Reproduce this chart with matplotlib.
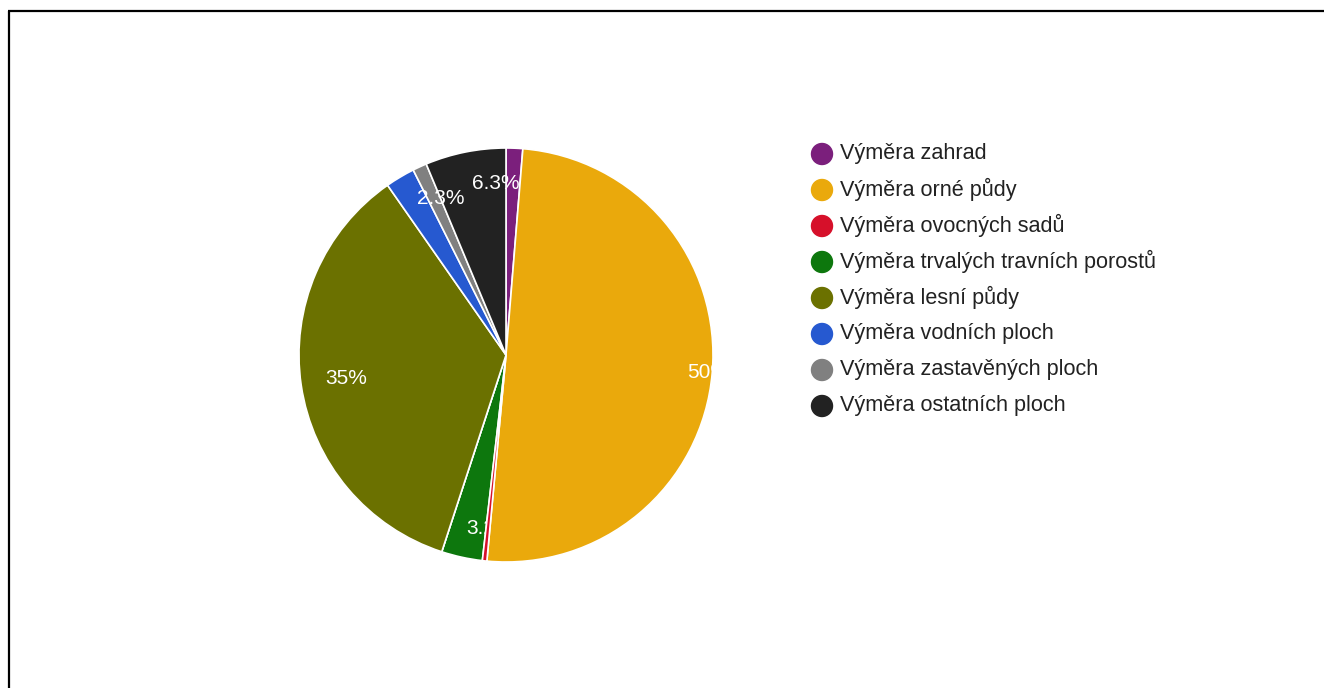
import numpy as np
import matplotlib
matplotlib.use("Agg")
import matplotlib.pyplot as plt
from matplotlib.patches import Circle, Wedge

plt.rcParams['font.family'] = ['Liberation Sans', 'DejaVu Sans']

# data (percent shares of land area)
labels = ['Výměra zahrad', 'Výměra orné půdy', 'Výměra ovocných sadů',
          'Výměra trvalých travních porostů', 'Výměra lesní půdy',
          'Výměra vodních ploch', 'Výměra zastavěných ploch',
          'Výměra ostatních ploch']
values = [1.3, 50.2, 0.35, 3.2, 35.3, 2.3, 1.1, 6.3]
colors = ['#7b1f7c', '#eaa90c', '#d6102a', '#0d770d', '#6b7100',
          '#2659d0', '#808080', '#222222']

# label placement (radius fraction, clockwise nudge in degrees)
label_r = [0.8, 0.98, 0.8, 0.84, 0.78, 0.82, 0.8, 0.83]
label_turn = [0, 0, 0, -7, 0, 8, 0, 8]
label_cut = [False, False, False, True, False, False, False, False]

W, H = 1324, 688
fig = plt.figure(figsize=(W / 100, H / 100), dpi=100)
ax = fig.add_axes([0, 0, 1, 1])

cx, cy, R = 506, H - 355, 207
wedges, _ = ax.pie(values, colors=colors, startangle=90, counterclock=False,
                   center=(cx, cy), radius=R, frame=True,
                   wedgeprops=dict(edgecolor='white', linewidth=1.2))
ax.set_xlim(0, W)
ax.set_ylim(0, H)
ax.set_aspect('equal')
ax.axis('off')

total = sum(values)
for i, (w, v, rf, turn, cut) in enumerate(zip(wedges, values, label_r, label_turn, label_cut)):
    pct = v / total * 100
    if pct < 2:
        continue
    txt = f'{pct:.2g}%'
    ang = np.deg2rad((w.theta1 + w.theta2) / 2 - turn)
    ax.text(cx + rf * R * np.cos(ang), cy + rf * R * np.sin(ang), txt,
            color='white', fontsize=15, ha='center', va='center',
            zorder=3 if cut else 6)
    if cut:
        # label truncated at its own slice: paint the other slices over it
        for j, o in enumerate(wedges):
            if j != i:
                ax.add_patch(Wedge((cx, cy), R, o.theta1, o.theta2,
                                   facecolor=colors[j], edgecolor='white',
                                   linewidth=1.2, zorder=4))

# legend
for i, (lab, col) in enumerate(zip(labels, colors)):
    y = H - (154 + 36 * i)
    ax.add_patch(Circle((822, y), 10.5, color=col))
    ax.text(840, y + 1, lab, fontsize=15.6, color='#222222', va='center', ha='left')

# frame (top and left edges)
ax.plot([8, W], [H - 10.5, H - 10.5], color='black', lw=1.6, solid_capstyle='butt')
ax.plot([8.5, 8.5], [0, H - 10.5], color='black', lw=1.6, solid_capstyle='butt')

fig.savefig('out.png', dpi=100)
